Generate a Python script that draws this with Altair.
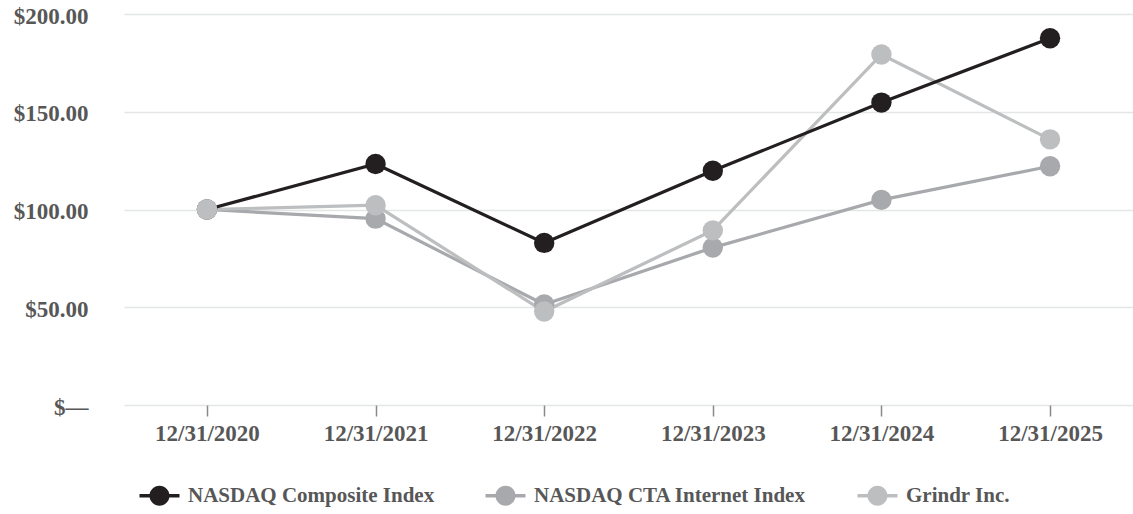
import altair as alt
import pandas as pd

dates = ["12/31/2020", "12/31/2021", "12/31/2022", "12/31/2023", "12/31/2024", "12/31/2025"]
series_names = ["NASDAQ Composite Index", "NASDAQ CTA Internet Index", "Grindr Inc."]
nasdaq = [100.0, 123.3, 82.9, 119.8, 154.7, 187.6]
cta = [100.0, 95.3, 51.4, 80.5, 104.9, 122.1]
grindr = [100.0, 102.2, 47.8, 89.3, 179.3, 135.9]
colors = ["#231f20", "#a7a9ac", "#bcbec0"]

values = {series_names[0]: nasdaq, series_names[1]: cta, series_names[2]: grindr}
color_of = dict(zip(series_names, colors))
rows = []
for s in series_names:
    for d, v in zip(dates, values[s]):
        rows.append({"date": d, "series": s, "value": v})
df = pd.DataFrame(rows)

FONT = "Liberation Serif"
TXT = "#575757"
FS = 23

x_enc = alt.X(
    "date:N",
    sort=dates,
    scale=alt.Scale(type="point", domain=dates, padding=0.492),
    axis=alt.Axis(
        title=None, domain=False, grid=False, ticks=True, tickSize=11,
        tickColor="#8a8a8a", tickWidth=1.5, labelPadding=6,
        labelFont=FONT, labelFontSize=FS, labelFontWeight="bold", labelColor=TXT,
        labelAngle=0,
    ),
)
y_enc = alt.Y(
    "value:Q",
    scale=alt.Scale(domain=[0, 200], nice=False, zero=True),
    axis=alt.Axis(
        title=None, values=[0, 50, 100, 150, 200], domain=False, ticks=False,
        grid=True, gridColor="#e4e6e6", gridWidth=1.5, labelPadding=36,
        labelFont=FONT, labelFontSize=FS, labelFontWeight="bold", labelColor=TXT,
        labelExpr="datum.value == 0 ? '$\u2014' : '$' + format(datum.value, '.2f')",
        labelOffset=2,
    ),
)

legend_path = (
    "M-2,-0.17L-0.85,-0.17L-0.85,0.17L-2,0.17Z "
    "M0.85,-0.17L2,-0.17L2,0.17L0.85,0.17Z "
    "M-1,0A1,1 0 1,1 1,0A1,1 0 1,1 -1,0Z"
)

line_order = [series_names[1], series_names[2], series_names[0]]
point_order = [series_names[0], series_names[1], series_names[2]]

layers = []
for s in line_order:
    layers.append(
        alt.Chart(df[df.series == s]).mark_line(strokeWidth=3.2, color=color_of[s]).encode(
            x=x_enc, y=y_enc,
        )
    )

pts = pd.concat([df[df.series == s] for s in point_order], ignore_index=True)
pts["ord"] = range(len(pts))
legend = alt.Legend(
    title=None, orient="none", direction="horizontal", legendX=25, legendY=471,
    symbolType=legend_path, symbolSize=400, symbolStrokeWidth=0,
    labelFont=FONT, labelFontSize=21, labelFontWeight="bold", labelColor=TXT,
    labelOffset=18, columnPadding=50, labelLimit=400,
)
layers.append(
    alt.Chart(pts).mark_circle(size=415, opacity=1).encode(
        x=x_enc, y=y_enc,
        color=alt.Color("series:N", scale=alt.Scale(domain=series_names, range=colors), legend=legend),
        order=alt.Order("ord:Q"),
    )
)

chart = alt.layer(*layers).properties(
    width=1009, height=391,
    autosize=alt.AutoSizeParams(type="none"),
    padding={"left": 124, "top": 14, "right": 0, "bottom": 109},
    background="white",
).configure_view(stroke=None)

chart.save("out.html", embed_options={"renderer": "svg", "actions": False})
